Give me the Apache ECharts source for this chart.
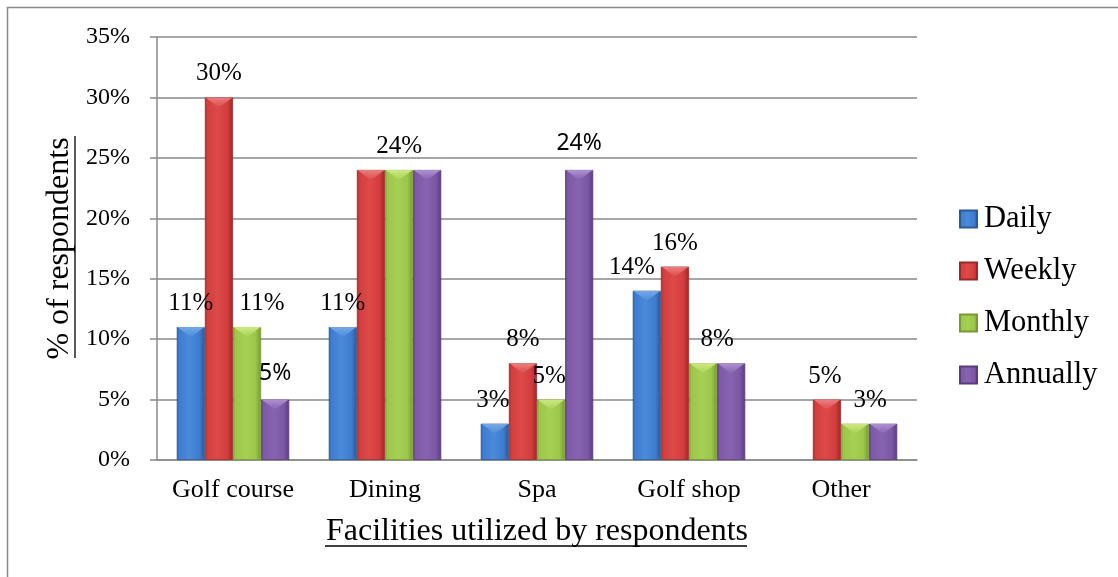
<!DOCTYPE html>
<html>
<head>
<meta charset="utf-8">
<script src="https://cdn.jsdelivr.net/npm/echarts@6/dist/echarts.min.js"></script>
<style>
  html, body { margin: 0; padding: 0; background: #fff; }
  #chart { width: 1118px; height: 577px; }
</style>
</head>
<body>
<div id="chart"></div>
<script>
// Facility usage by frequency (% of respondents)
const categories = ['Golf course', 'Dining', 'Spa', 'Golf shop', 'Other'];
const seriesNames = ['Daily', 'Weekly', 'Monthly', 'Annually'];
const daily    = [11, 11, 3, 14, 0];
const weekly   = [30, 24, 8, 16, 5];
const monthly  = [11, 24, 5, 8, 3];
const annually = [5, 24, 24, 8, 3];
const yTicks = [0, 5, 10, 15, 20, 25, 30, 35];

// which values carry a printed label (1 = shown)
const shownDaily    = [1, 1, 1, 1, 0];
const shownWeekly   = [1, 0, 1, 1, 1];
const shownMonthly  = [1, 1, 1, 1, 1];
const shownAnnually = [1, 0, 1, 0, 0];

const values = [daily, weekly, monthly, annually];
const shown = [shownDaily, shownWeekly, shownMonthly, shownAnnually];

// label nudges (px) so crowded labels sit between neighbours
const labelShift = [
  [0, 0, -2, -15, 0],
  [0, 0, 0, 0, -2],
  [15, 0, -2, 14, 15],
  [0, 0, 0, 0, 0]
];
// the annual labels on Golf course and Spa use a sans face
const sansLabel = [
  [0, 0, 0, 0, 0],
  [0, 0, 0, 0, 0],
  [0, 0, 0, 0, 0],
  [1, 0, 1, 0, 0]
];

const palette = [
  { dark: '#2b5a98', mid: '#3d7dd0', light: '#4b8ad8', bevel: '#7fb0ec' },
  { dark: '#9c2828', mid: '#d43d3d', light: '#dc4a4a', bevel: '#f08a8a' },
  { dark: '#779a33', mid: '#9bc649', light: '#a6d055', bevel: '#d6f08a' },
  { dark: '#583d7d', mid: '#7d58a6', light: '#8763b0', bevel: '#b89ad8' }
];

function barFill(p) {
  return {
    type: 'linear', x: 0, y: 0, x2: 1, y2: 0,
    colorStops: [
      { offset: 0, color: p.dark },
      { offset: 0.08, color: p.mid },
      { offset: 0.45, color: p.light },
      { offset: 0.8, color: p.mid },
      { offset: 1, color: p.dark }
    ]
  };
}

const serif = 'Liberation Serif, Times New Roman, serif';
const CAT_GAP = 0.26;

const barSeries = seriesNames.map((name, s) => ({
  name: name,
  type: 'bar',
  barGap: '0%',
  barCategoryGap: (CAT_GAP * 100) + '%',
  itemStyle: { color: barFill(palette[s]), borderColor: palette[s].dark, borderWidth: 0.8 },
  data: values[s].map((v, i) => {
    const sans = sansLabel[s][i] === 1;
    return {
      value: v,
      itemStyle: v === 0 ? { borderWidth: 0 } : undefined,
      label: {
        show: shown[s][i] === 1,
        position: 'top',
        distance: sans ? 15 : 11,
        offset: [labelShift[s][i], 0],
        formatter: '{c}%',
        color: '#000',
        fontFamily: sans ? 'Noto Sans, sans-serif' : serif,
        fontSize: sans ? 23 : 25
      }
    };
  })
}));

// bevel triangles on top of each column
const bevelData = [];
values.forEach((arr, s) => arr.forEach((v, i) => { if (v > 0) bevelData.push([i, v, s]); }));

const bevelSeries = {
  type: 'custom',
  silent: true,
  z: 5,
  encode: { x: 0, y: 1 },
  data: bevelData,
  renderItem: function (params, api) {
    const cat = api.value(0), val = api.value(1), s = api.value(2);
    const band = api.size([1, 0])[0];
    const bw = band * (1 - CAT_GAP) / 4;
    const top = api.coord([cat, val]);
    const base = api.coord([cat, 0]);
    const x0 = top[0] - 2 * bw + s * bw;
    const h = Math.min(bw * 0.36, base[1] - top[1]);
    const p = palette[s];
    return {
      type: 'group',
      children: [{
        type: 'polygon',
        shape: { points: [[x0 + 0.5, top[1]], [x0 + bw - 0.5, top[1]], [x0 + bw / 2, top[1] + h]] },
        style: {
          fill: {
            type: 'linear', x: 0, y: 0, x2: 0, y2: 1,
            colorStops: [{ offset: 0, color: p.bevel }, { offset: 1, color: p.light }]
          },
          opacity: 0.85
        }
      }]
    };
  }
};

const chart = echarts.init(document.getElementById('chart'));
chart.setOption({
  animation: false,
  backgroundColor: '#fff',
  grid: { left: 157, right: 201, top: 37, bottom: 117 },
  legend: {
    data: seriesNames,
    orient: 'vertical',
    left: 959,
    top: 203,
    padding: 0,
    itemWidth: 17,
    itemHeight: 17,
    itemGap: 20,
    icon: 'rect',
    textStyle: { fontFamily: serif, fontSize: 30.5, color: '#000', lineHeight: 32, padding: [0, 0, 0, 2] }
  },
  xAxis: {
    type: 'category',
    data: categories,
    name: 'Facilities utilized by respondents',
    nameLocation: 'middle',
    nameGap: 56,
    nameTextStyle: { fontFamily: serif, fontSize: 32, color: '#000' },
    axisLine: { lineStyle: { color: '#8a8a8a', width: 1.5 } },
    axisTick: { show: false },
    axisLabel: { interval: 0, hideOverlap: false, margin: 17, fontFamily: serif, fontSize: 26, color: '#000' }
  },
  yAxis: {
    type: 'value',
    min: yTicks[0],
    max: yTicks[yTicks.length - 1],
    interval: yTicks[1] - yTicks[0],
    name: '% of respondents',
    nameLocation: 'middle',
    nameGap: 79,
    nameTextStyle: { fontFamily: serif, fontSize: 32, color: '#000' },
    axisLine: { show: true, lineStyle: { color: '#8a8a8a', width: 1.5 } },
    axisTick: { show: true, length: 7, lineStyle: { color: '#8a8a8a', width: 1.5 } },
    splitLine: { lineStyle: { color: '#8a8a8a', width: 1.5 } },
    axisLabel: { margin: 27, formatter: '{value}%', fontFamily: serif, fontSize: 24, color: '#000' }
  },
  graphic: [
    { type: 'rect', shape: { x: 7.5, y: 7.5, width: 1200, height: 700 }, style: { fill: 'none', stroke: '#8a8a8a', lineWidth: 1.5 }, silent: true },
    { type: 'line', shape: { x1: 325, y1: 546, x2: 747, y2: 546 }, style: { stroke: '#000', lineWidth: 1.3 }, silent: true },
    { type: 'line', shape: { x1: 75, y1: 136, x2: 75, y2: 358 }, style: { stroke: '#000', lineWidth: 1.3 }, silent: true }
  ],
  series: barSeries.concat([bevelSeries])
});
</script>
</body>
</html>
